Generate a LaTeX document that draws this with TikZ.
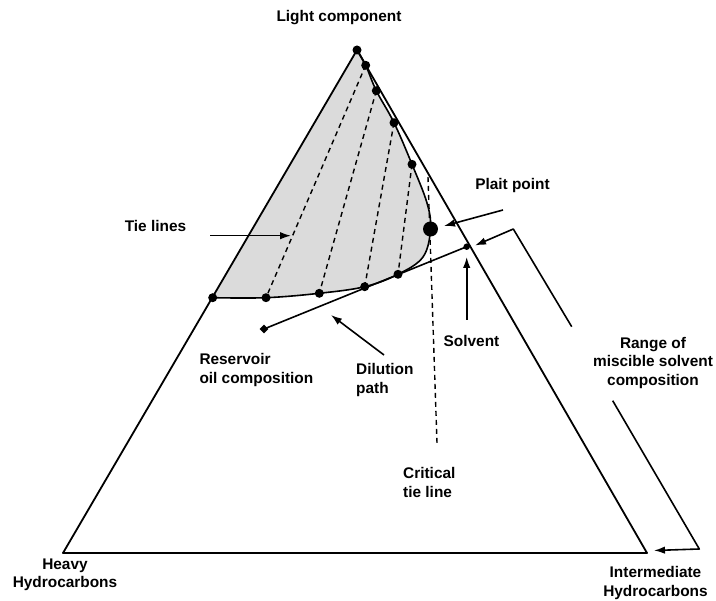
\documentclass[tikz,border=0pt]{standalone}
\usepackage{fontspec}
\setmainfont{Liberation Sans}
\usepackage{tikz}
\usetikzlibrary{arrows.meta}
\usetikzlibrary{shapes.geometric}
\tikzstyle{dot} = [circle, fill, inner sep=0pt, minimum size=9pt]
\tikzstyle{bigdot} = [circle, fill, inner sep=0pt, minimum size=15pt]
\tikzstyle{smalldot} = [circle, fill, inner sep=0pt, minimum size=6.5pt]
\tikzstyle{oil} = [diamond, fill, inner sep=0pt, minimum size=9pt]
\tikzstyle{txt} = [font=\bfseries\fontsize{15.4}{18.5}\selectfont, inner sep=0pt, align=center]
\tikzstyle{tie} = [dash pattern=on 5pt off 4pt, line width=1.4pt]
\tikzstyle{pointer} = [-{Latex[length=11pt,width=7.5pt]}, line width=1.6pt]

\begin{document}
\begin{tikzpicture}[x=1pt, y=-1pt]
    \useasboundingbox (0,0) rectangle (716,601);

    \coordinate (light) at (357,50);
    \coordinate (heavy) at (63,553);
    \coordinate (inter) at (647,553);

    \coordinate (b1) at (365.7,65.3);
    \coordinate (b2) at (376.3,90.7);
    \coordinate (b3) at (394,122.7);
    \coordinate (b4) at (412,164.3);
    \coordinate (k1) at (427,203);
    \coordinate (pp) at (430.5,229);
    \coordinate (k2) at (423,257);
    \coordinate (b5) at (398,274.3);
    \coordinate (b6) at (364.7,286.7);
    \coordinate (b7) at (319.3,293.3);
    \coordinate (b8) at (266,297.7);
    \coordinate (b9) at (212.7,297.7);
    \coordinate (ct1) at (428,177);
    \coordinate (ct2) at (437,443);
    \coordinate (res) at (264,329);
    \coordinate (sol) at (466.7,246.7);

    \fill [black!14] plot [smooth, tension=0.6] coordinates {(light) (b1) (b2) (b3) (b4) (k1) (pp) (k2) (b5) (b6) (b7) (b8) (b9)} -- cycle;

    \draw [tie] (b1) -- (b8);
    \draw [tie] (b2) -- (b7);
    \draw [tie] (b3) -- (b6);
    \draw [tie] (b4) -- (b5);
    \draw [tie] (ct1) -- (ct2);

    \draw [line width=1.8pt, line join=round] (light) -- (heavy) -- (inter) -- cycle;
    \draw [line width=1.6pt] plot [smooth, tension=0.6] coordinates {(light) (b1) (b2) (b3) (b4) (k1) (pp) (k2) (b5) (b6) (b7) (b8) (b9)};

    \node [dot, name=d0] at (light) {};
    \node [dot, name=d1] at (b1) {};
    \node [dot, name=d2] at (b2) {};
    \node [dot, name=d3] at (b3) {};
    \node [dot, name=d4] at (b4) {};
    \node [dot, name=d5] at (b5) {};
    \node [dot, name=d6] at (b6) {};
    \node [dot, name=d7] at (b7) {};
    \node [dot, name=d8] at (b8) {};
    \node [dot, name=d9] at (b9) {};
    \node [bigdot, name=plait] at (pp) {};
    \node [oil, name=oilpt] at (res) {};
    \node [smalldot, name=solvent] at (sol) {};

    \draw [line width=1.6pt] (oilpt.center) -- (solvent.center);

    \coordinate (tiefrom) at (210,235.7);
    \coordinate (tieto) at (291,235.7);
    \coordinate (plaitfrom) at (503,210);
    \coordinate (plaitto) at (444,226);
    \coordinate (solfrom) at (466.7,320);
    \coordinate (solto) at (466.7,257);
    \coordinate (dilfrom) at (384,355);
    \coordinate (dilto) at (331,315);
    \coordinate (rtop) at (571.7,326.7);
    \coordinate (rtopcorner) at (513.3,229);
    \coordinate (rtopto) at (475,245.5);
    \coordinate (rbot) at (612.7,400.7);
    \coordinate (rbotcorner) at (699.3,549);
    \coordinate (rbotto) at (654,550.5);

    \draw [pointer] (tiefrom) -- (tieto);
    \draw [pointer] (plaitfrom) -- (plaitto);
    \draw [pointer] (solfrom) -- (solto);
    \draw [pointer] (dilfrom) -- (dilto);
    \draw [pointer, line join=round] (rtop) -- (rtopcorner) -- (rtopto);
    \draw [pointer, line join=round] (rbot) -- (rbotcorner) -- (rbotto);

    \node [txt, name=lightlbl] at (339,18) {Light component};
    \node [txt, name=heavylbl] at (65,575) {Heavy\\Hydrocarbons};
    \node [txt, name=interlbl] at (655.5,583) {Intermediate\\Hydrocarbons};
    \node [txt, name=tielbl] at (155.5,226) {Tie lines};
    \node [txt, name=plaitlbl] at (512.5,186) {Plait point};
    \node [txt, name=sollbl] at (471.5,341) {Solvent};
    \node [txt, align=left, anchor=west, name=reslbl] at (199.3,370) {Reservoir\\oil composition};
    \node [txt, align=left, anchor=west, name=dillbl] at (356,380) {Dilution\\path};
    \node [txt, align=left, anchor=west, name=critlbl] at (403,482.5) {Critical\\tie line};
    \node [txt, name=rangelbl] at (653,363) {Range of\\miscible solvent\\composition};
\end{tikzpicture}
\end{document}
